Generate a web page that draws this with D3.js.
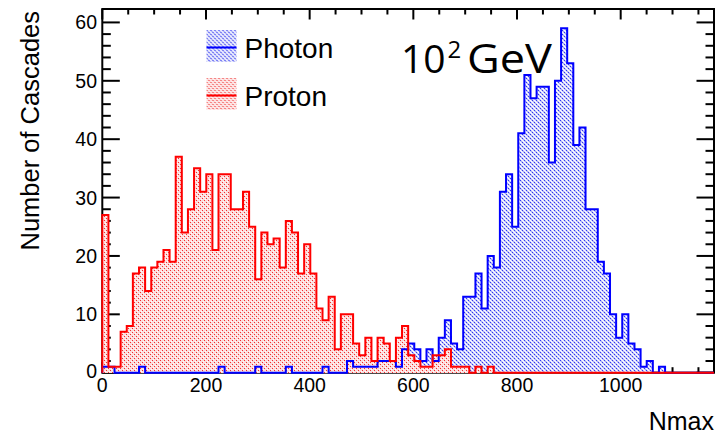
<!DOCTYPE html>
<html lang="en">
<head>
    <meta charset="UTF-8">
    <title>Nmax</title>
    <script src="https://d3js.org/d3.v7.min.js"></script>
    <style>
        body {
            margin: 0;
            background: #fff;
        }
        svg text {
            font-family: "Liberation Sans", Arial, sans-serif;
            fill: #000;
        }
    </style>
</head>
<body>
    <script>
        // histogram binning: 100 bins over 0..1180
        const xMin = 0, xMax = 1180, nBins = 100;

        // counts per bin
        const photon = [
            1, 1, 0, 0, 0, 0, 1, 0, 0, 0,
            0, 0, 0, 0, 0, 0, 0, 0, 0, 1,
            0, 0, 0, 0, 0, 1, 0, 0, 0, 0,
            1, 0, 0, 0, 0, 0, 1, 0, 0, 0,
            2, 1, 1, 1, 1, 2, 2, 2, 1, 4,
            5, 4, 2, 4, 2, 6, 9, 5, 4, 13,
            13, 17, 11, 20, 18, 31, 34, 25, 41, 51,
            47, 49, 49, 36, 50, 59, 53, 39, 42, 28,
            28, 19, 17, 10, 6, 10, 5, 4, 1, 2,
            0, 1, 0, 0, 0, 0, 0, 0, 0, 0
        ];
        const proton = [
            27, 1, 1, 7, 8, 17, 18, 14, 18, 19,
            21, 19, 37, 24, 28, 35, 31, 34, 21, 34,
            34, 28, 28, 31, 25, 16, 24, 22, 23, 18,
            26, 24, 17, 22, 17, 11, 9, 13, 4, 10,
            10, 5, 3, 6, 2, 6, 5, 2, 6, 8,
            3, 2, 1, 1, 3, 3, 4, 1, 1, 1,
            0, 1, 0, 1, 0, 0, 0, 0, 0, 0,
            0, 0, 0, 0, 0, 0, 0, 0, 0, 0,
            0, 0, 0, 0, 0, 0, 0, 0, 0, 0,
            0, 0, 0, 0, 0, 0, 0, 0, 0, 0
        ];
        const xMajor = [0, 200, 400, 600, 800, 1000];
        const yMajor = [0, 10, 20, 30, 40, 50, 60];

        const width = 716, height = 437;
        const padL = 102.3, padR = 714, padT = 9, padB = 372.7;

        const svg = d3.select("body").append("svg")
            .attr("width", width)
            .attr("height", height);

        // ROOT-like fill patterns
        const defs = svg.append("defs");
        function pixelPattern(id, bg, pixels) {
            const p = defs.append("pattern")
                .attr("id", id)
                .attr("patternUnits", "userSpaceOnUse")
                .attr("width", 4).attr("height", 4);
            p.append("rect").attr("width", 4).attr("height", 4).attr("fill", bg);
            pixels.forEach(([a, b, c]) => {
                p.append("rect").attr("x", a).attr("y", b)
                    .attr("width", 1).attr("height", 1).attr("fill", c);
            });
        }
        pixelPattern("hatchBlue", "#cdd0fa", [
            [0, 0, "#3338f0"], [2, 2, "#3338f0"],
            [1, 1, "#a4a7f6"], [3, 3, "#a4a7f6"],
            [2, 0, "#ffffff"], [0, 2, "#ffffff"],
            [1, 3, "#ffffff"], [3, 1, "#ffffff"]
        ]);
        pixelPattern("dotsRed", "#fcdcdc", [
            [0, 0, "#f03030"], [2, 2, "#f03030"],
            [1, 3, "#ffffff"], [3, 1, "#ffffff"]
        ]);

        const x = d3.scaleLinear().domain([xMin, xMax]).range([padL, padR]);
        const y = d3.scaleLinear().domain([0, 62.3]).range([padB, padT]);

        const binW = (xMax - xMin) / nBins;

        // frame
        svg.append("rect")
            .attr("x", padL).attr("y", padT)
            .attr("width", padR - padL).attr("height", padB - padT)
            .attr("fill", "none").attr("stroke", "#000").attr("stroke-width", 2);

        // ticks (inward, on all four sides)
        const ticks = svg.append("g").attr("stroke", "#000").attr("stroke-width", 2);
        const xMinor = d3.range(0, xMax, 50).filter(v => !xMajor.includes(v));
        xMajor.forEach(v => {
            ticks.append("line").attr("x1", x(v)).attr("x2", x(v)).attr("y1", padB).attr("y2", padB - 10.5);
            ticks.append("line").attr("x1", x(v)).attr("x2", x(v)).attr("y1", padT).attr("y2", padT + 10.5);
        });
        xMinor.forEach(v => {
            ticks.append("line").attr("x1", x(v)).attr("x2", x(v)).attr("y1", padB).attr("y2", padB - 5.5);
            ticks.append("line").attr("x1", x(v)).attr("x2", x(v)).attr("y1", padT).attr("y2", padT + 5.5);
        });
        const yMinor = d3.range(0, 62, 2).filter(v => !yMajor.includes(v));
        yMajor.forEach(v => {
            ticks.append("line").attr("x1", padL).attr("x2", padL + 17.5).attr("y1", y(v)).attr("y2", y(v));
            ticks.append("line").attr("x1", padR).attr("x2", padR - 17.5).attr("y1", y(v)).attr("y2", y(v));
        });
        yMinor.forEach(v => {
            ticks.append("line").attr("x1", padL).attr("x2", padL + 8.5).attr("y1", y(v)).attr("y2", y(v));
            ticks.append("line").attr("x1", padR).attr("x2", padR - 8.5).attr("y1", y(v)).attr("y2", y(v));
        });

        // tick labels
        svg.append("g").selectAll("text")
            .data(xMajor)
            .join("text")
            .attr("x", d => x(d))
            .attr("y", 392)
            .attr("text-anchor", "middle")
            .style("font-size", "19.5px")
            .text(d => d);

        svg.append("g").selectAll("text")
            .data(yMajor)
            .join("text")
            .attr("x", 97)
            .attr("y", d => y(d) - (d === 0 ? 2 : 0))
            .attr("dy", "0.36em")
            .attr("text-anchor", "end")
            .style("font-size", "19.5px")
            .text(d => d);

        // axis titles
        svg.append("text")
            .attr("x", 714).attr("y", 430)
            .attr("text-anchor", "end")
            .style("font-size", "25px")
            .text("Nmax");

        svg.append("text")
            .attr("transform", "translate(39,11) rotate(-90)")
            .attr("text-anchor", "end")
            .style("font-size", "25.5px")
            .text("Number of Cascades");

        // histograms as step outlines
        function steps(values) {
            const pts = [[xMin, 0]];
            values.forEach((v, i) => {
                pts.push([xMin + i * binW, v]);
                pts.push([xMin + (i + 1) * binW, v]);
            });
            pts.push([xMax, 0]);
            return pts;
        }
        const area = d3.area().x(d => x(d[0])).y0(y(0)).y1(d => y(d[1]));
        const line = d3.line().x(d => x(d[0])).y(d => y(d[1]));

        const series = [
            { name: "Photon", values: photon, color: "#0000ff", fill: "url(#hatchBlue)" },
            { name: "Proton", values: proton, color: "#ff0000", fill: "url(#dotsRed)" }
        ];

        series.forEach(s => {
            svg.append("path")
                .attr("d", area(steps(s.values)))
                .attr("fill", s.fill)
                .attr("shape-rendering", "crispEdges");
        });
        series.forEach(s => {
            svg.append("path")
                .attr("d", line(steps(s.values)))
                .attr("fill", "none")
                .attr("stroke", s.color)
                .attr("stroke-width", 2);
        });

        // legend
        const legend = svg.append("g");
        series.forEach((s, i) => {
            const g = legend.append("g").attr("transform", `translate(206.5,${30 + i * 48})`);
            g.append("rect").attr("width", 30).attr("height", 32).attr("fill", s.fill);
            g.append("line").attr("x1", 0).attr("x2", 30).attr("y1", 17.5).attr("y2", 17.5)
                .attr("stroke", s.color).attr("stroke-width", 2);
            g.append("text")
                .attr("x", 38).attr("y", 27.5)
                .style("font-size", "28px")
                .text(s.name);
        });

        // energy label
        const labFont = "'Open Sans', 'Noto Sans', sans-serif";
        svg.append("text")
            .attr("x", 401).attr("y", 73)
            .style("font-family", labFont)
            .style("font-size", "39px")
            .text("10");
        svg.append("text")
            .attr("x", 447.5).attr("y", 58)
            .style("font-family", labFont)
            .style("font-size", "24px")
            .text("2");
        svg.append("text")
            .attr("x", 467).attr("y", 73)
            .attr("textLength", 85)
            .attr("lengthAdjust", "spacingAndGlyphs")
            .style("font-family", labFont)
            .style("font-size", "40px")
            .text("GeV");
    </script>
</body>
</html>
